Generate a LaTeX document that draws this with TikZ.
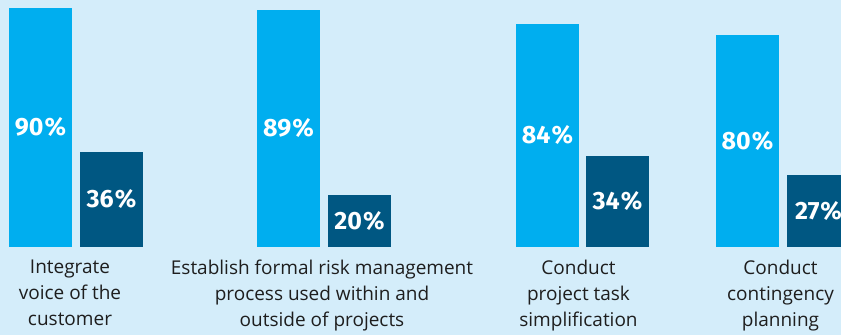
\documentclass[tikz,border=0pt]{standalone}
\usepackage{fontspec}
\setmainfont{Open Sans}
\newfontfamily\pctfont{Fira Sans}
\definecolor{bgblue}{RGB}{212,237,250}
\definecolor{lightbar}{RGB}{0,174,239}
\definecolor{darkbar}{RGB}{0,87,130}
\definecolor{labeltext}{RGB}{30,30,30}

\begin{document}
\begin{tikzpicture}[x=1pt,y=1pt,
    bar/.style={anchor=south west,minimum width=63pt,inner sep=0pt,outer sep=0pt,text=white,font=\pctfont\bfseries\fontsize{25}{25}\selectfont},
    hi/.style={bar,fill=lightbar},
    lo/.style={bar,fill=darkbar},
    caption/.style={anchor=north,align=center,inner sep=0pt,text=labeltext,font=\fontsize{19}{26}\selectfont}]
    \fill[bgblue] (0,0) rectangle (841,335);
    \useasboundingbox (0,0) rectangle (841,335);
    % voice of the customer
    \node[hi,minimum height=239pt] (A1) at (9,88){90\kern1pt\%};
    \node[lo,minimum height=95pt] (A2) at (80,88){36\kern1pt\%};
    \node[caption] (LA) at (70,75){Integrate\\voice of the\\customer};
    % risk management
    \node[hi,minimum height=237pt] (B1) at (257,88){89\kern1pt\%};
    \node[lo,minimum height=52pt] (B2) at (328,88){20\kern1pt\%};
    \node[caption] (LB) at (322,75){Establish formal risk management\\process used within and\\outside of projects};
    % task simplification
    \node[hi,minimum height=223pt] (C1) at (516,88){84\kern1pt\%};
    \node[lo,minimum height=91pt] (C2) at (586,88){34\kern1pt\%};
    \node[caption] (LC) at (578.5,75){Conduct\\project task\\simplification};
    % contingency planning
    \node[hi,minimum height=212pt] (D1) at (716,88){80\kern1pt\%};
    \node[lo,minimum height=72pt] (D2) at (787,88){27\kern1pt\%};
    \node[caption] (LD) at (780.5,75){Conduct\\contingency\\planning};
\end{tikzpicture}
\end{document}
